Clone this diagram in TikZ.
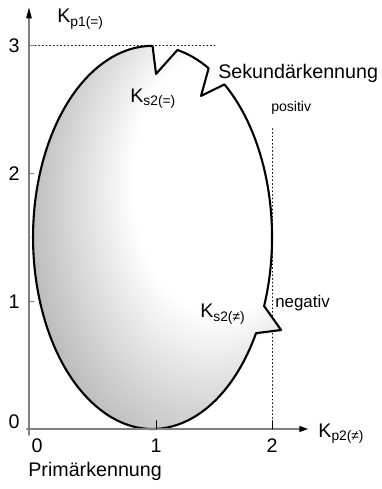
\documentclass[tikz,border=0pt]{standalone}
\usepackage{fontspec}
\setmainfont{Liberation Sans}
\usetikzlibrary{arrows.meta}

\pgfdeclareradialshading{eggshade}{\pgfpoint{17.6bp}{11.4bp}}{%
  color(0bp)=(white); color(16bp)=(white); color(48bp)=(black!55);
  color(60bp)=(black!55)}

\begin{document}
\begin{tikzpicture}[x=2.9cm, y=3.1925cm,
    font=\fontsize{14}{16}\selectfont, line cap=round, line join=round]

  \useasboundingbox (-0.345,-0.470) rectangle (2.940,3.359);

  %% ---- dotted guides ----
  \draw[dotted, line width=0.6pt] (-0.043,3) -- (1.509,3);
  \draw[dotted, line width=0.6pt] (2,0.055) -- (2,2.357);

  %% ---- egg with notches ----
  \shadedraw[shading=eggshade, line width=1.5pt]
    (0.97,3) -- (1.0,2.78) -- ({0.97+1.03*cos(78)},{1.5+1.5*sin(78)})
    arc[start angle=78, end angle=62, x radius=1.03, y radius=1.5]
    -- (1.388,2.608) -- ({0.97+1.03*cos(53)},{1.5+1.5*sin(53)})
    arc[start angle=53, end angle=-21, x radius=1.03, y radius=1.5]
    -- (2.078,0.775) -- ({0.97+1.03*cos(-30)},{1.5+1.5*sin(-30)})
    arc[start angle=-30, end angle=-270, x radius=1.03, y radius=1.5]
    -- cycle;

  %% ---- axes ----
  \draw[gray, line width=1.2pt] (-0.095,-0.047) -- (-0.095,3.25);
  \draw[gray, line width=1.2pt] (-0.112,0) -- (2.28,0);
  \fill (-0.095,3.30) -- (-0.120,3.215) -- (-0.070,3.215) -- cycle;
  \fill (2.31,0) -- (2.235,0.025) -- (2.235,-0.025) -- cycle;

  %% ---- ticks ----
  \foreach \y in {1,2,3}
    \draw[gray, line width=0.9pt] (-0.095,\y) -- (-0.055,\y);
  \foreach \x in {1,2}
    \draw[line width=0.6pt] (\x,0) -- (\x,0.065);

  %% ---- tick labels ----
  \foreach \y/\ypos in {0/0.055, 1/1, 2/2, 3/3}
    \node (ylab\y) at (-0.224,\ypos) {\y};
  \foreach \x/\xpos in {0/-0.026, 1/1, 2/2}
    \node (xlab\x) at (\xpos,-0.133) {\x};

  %% ---- axis titles ----
  \node[anchor=base west, inner sep=0pt] (kp1) at (0.147,3.179)
    {K\textsubscript{p1(=)}};
  \node[anchor=base west, inner sep=0pt] (kp2) at (2.397,-0.063)
    {K\textsubscript{p2(≠)}};
  \node[anchor=base west, inner sep=0pt] (prim) at (-0.103,-0.376)
    {Primärkennung};

  %% ---- secondary labels ----
  \node[anchor=base west, inner sep=0pt] (sek) at (1.534,2.741)
    {Sekundärkennung};
  \node[anchor=base west, inner sep=0pt, font=\fontsize{10}{12}\selectfont]
    (pos) at (1.991,2.482) {positiv};
  \node[anchor=base west, inner sep=0pt, font=\fontsize{12}{14}\selectfont]
    (neg) at (2.026,0.948) {negativ};
  \node[anchor=base west, inner sep=0pt] (ks2eq) at (0.776,2.553)
    {K\textsubscript{s2(=)}};
  \node[anchor=base west, inner sep=0pt] (ks2ne) at (1.379,0.869)
    {K\textsubscript{s2(≠)}};

\end{tikzpicture}
\end{document}
